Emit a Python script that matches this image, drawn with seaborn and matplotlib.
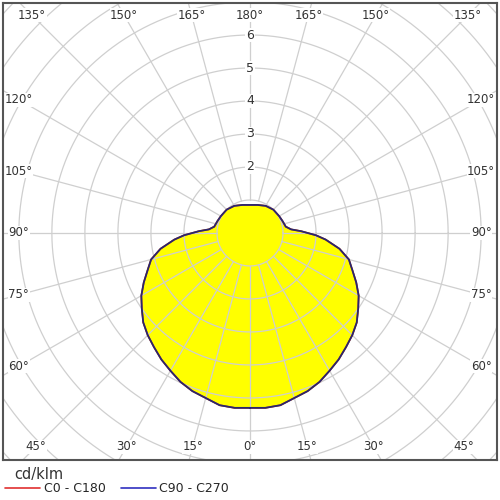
import numpy as np
import pandas as pd
import seaborn as sns
import matplotlib.pyplot as plt

# photometric data (half curve, gamma in degrees from nadir, cd/klm)
gamma = [0, 5, 10, 20, 25, 30, 35, 40, 45, 50, 55, 60, 65, 70, 75, 80, 85, 88,
         92, 95, 100, 110, 120, 135, 150, 165, 180]
intensity = [5.3, 5.32, 5.3, 5.1, 4.98, 4.82, 4.68, 4.52, 4.38, 4.22, 4.0, 3.8,
             3.55, 3.3, 3.1, 2.75, 2.3, 2.0, 1.55, 1.25, 1.1, 1.05, 1.02, 1.0,
             0.95, 0.88, 0.85]
angle_labels = [0, 15, 30, 45, 60, 75, 90, 105, 120, 135, 150, 165, 180]
radial_ticks = [2, 3, 4, 5, 6]

# full closed curve, mirrored around the vertical axis
g = np.radians(np.array(gamma + gamma[::-1][1:]))
r = np.array(intensity + intensity[::-1][1:])
sign = np.array([1] * len(gamma) + [-1] * (len(gamma) - 1))
curve = pd.DataFrame({"x": sign * r * np.sin(g), "y": -r * np.cos(g)})

sns.set_style("white")
plt.rcParams['font.family'] = ['DejaVu Sans']
fig = plt.figure(figsize=(5, 5), dpi=100)
ax = fig.add_axes([0.006, 0.08, 0.988, 0.914])
ax.set_xlim(-7.48, 7.48)
ax.set_ylim(-6.88, 6.97)

ax.fill(curve["x"], curve["y"], color="#ffff00", zorder=1)

grid_c = "#cfcfcf"
t = np.linspace(0, 2 * np.pi, 400)
for rr in range(1, 12):
    ax.plot(rr * np.cos(t), rr * np.sin(t), color=grid_c, lw=0.9, zorder=2)
for a in range(0, 360, 15):
    th = np.radians(a)
    ax.plot([np.sin(th), 12 * np.sin(th)], [-np.cos(th), -12 * np.cos(th)],
            color=grid_c, lw=0.9, zorder=2)

sns.lineplot(data=curve, x="x", y="y", sort=False, estimator=None,
             color="#e03030", lw=1.2, ax=ax, zorder=3)
sns.lineplot(data=curve, x="x", y="y", sort=False, estimator=None,
             color="#28286e", lw=1.3, ax=ax, zorder=4)

for v in radial_ticks:
    ax.text(0, v, str(v), ha="center", va="center", fontsize=9, color="#333333",
            bbox=dict(fc="white", ec="none", pad=0.5), zorder=5)

# angle labels along the edge of the frame
for a in angle_labels:
    th = np.radians(a)
    dx, dy = np.sin(th), -np.cos(th)
    s = min(7.0 / abs(dx) if dx else 99, (6.6 if dy > 0 else 6.48) / abs(dy) if dy else 99)
    for sg in ([1, -1] if 0 < a < 180 else [1]):
        ax.text(sg * dx * s, dy * s, f"{a}°", ha="center", va="center", fontsize=8.5,
                color="#333333", bbox=dict(fc="white", ec="none", pad=0.3), zorder=5)

ax.set_xticks([])
ax.set_yticks([])
ax.set_xlabel("")
ax.set_ylabel("")
for sp in ax.spines.values():
    sp.set_color("#555555")
    sp.set_linewidth(1.5)
    sp.set_zorder(6)

fig.text(0.028, 0.05, "cd/klm", fontsize=10.5, color="#333333", va="center")
fig.legend(handles=[plt.Line2D([], [], color="#e03030", lw=1.2),
                    plt.Line2D([], [], color="#3030c0", lw=1.2)],
           labels=["C0 - C180", "C90 - C270"], loc="center left",
           bbox_to_anchor=(0.0, 0.022), ncol=2, frameon=False, fontsize=9,
           handlelength=2.8, handletextpad=0.3, columnspacing=1.2, borderaxespad=0)

fig.savefig("out.png", dpi=100, facecolor="white")
